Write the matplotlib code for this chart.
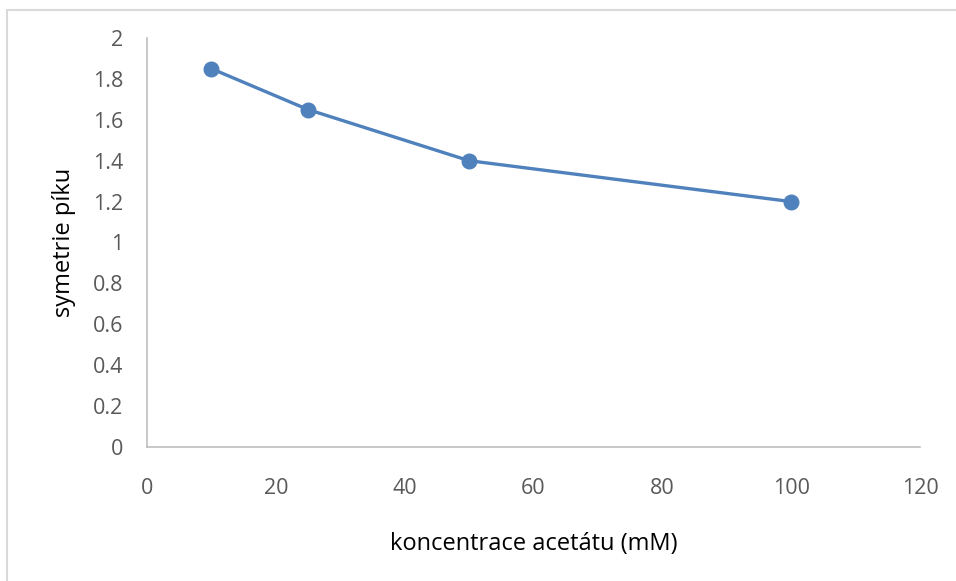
import matplotlib.pyplot as plt
from matplotlib.patches import Rectangle

plt.rcParams['font.family'] = ['Open Sans', 'DejaVu Sans']

# acetate concentration (mM) vs. peak symmetry
koncentrace = [10, 25, 50, 100]
symetrie = [1.85, 1.65, 1.40, 1.20]
x_ticks = [0, 20, 40, 60, 80, 100, 120]
y_ticks = [0, 0.2, 0.4, 0.6, 0.8, 1, 1.2, 1.4, 1.6, 1.8, 2]

text_color = '#595959'
axis_color = '#bfbfbf'
line_color = '#4f81bd'

fig = plt.figure(figsize=(9.56, 5.81), dpi=100)
W, H = 956, 581

# light chart border
fig.patches.append(Rectangle((7 / W, -0.1), 1.2, 1 - 10 / H + 0.1, transform=fig.transFigure,
                             fill=False, edgecolor='#d9d9d9', linewidth=1.5))

ax = fig.add_axes([147 / W, 1 - 447 / H, (920 - 147) / W, (447 - 38) / H])
ax.plot(koncentrace, symetrie, color=line_color, linewidth=2.4,
        marker='o', markersize=10.5, markerfacecolor=line_color, markeredgecolor=line_color)

ax.set_xlim(0, 120)
ax.set_ylim(0, 2)
ax.set_xticks(x_ticks)
ax.set_xticklabels([str(v) for v in x_ticks])
ax.set_yticks(y_ticks)
ax.set_yticklabels([f'{v:g}' for v in y_ticks])

for side in ('top', 'right'):
    ax.spines[side].set_visible(False)
for side in ('left', 'bottom'):
    ax.spines[side].set_color(axis_color)
    ax.spines[side].set_linewidth(1.2)

ax.tick_params(axis='x', length=0, pad=22, labelsize=15.5, labelcolor=text_color)
ax.tick_params(axis='y', length=0, pad=17, labelsize=15.5, labelcolor=text_color)

ax.set_xlabel('koncentrace acetátu (mM)', fontsize=17, color='black', labelpad=24)
ax.set_ylabel('symetrie píku', fontsize=17, color='black', labelpad=12)

fig.savefig('out.png', dpi=100, facecolor='white')
